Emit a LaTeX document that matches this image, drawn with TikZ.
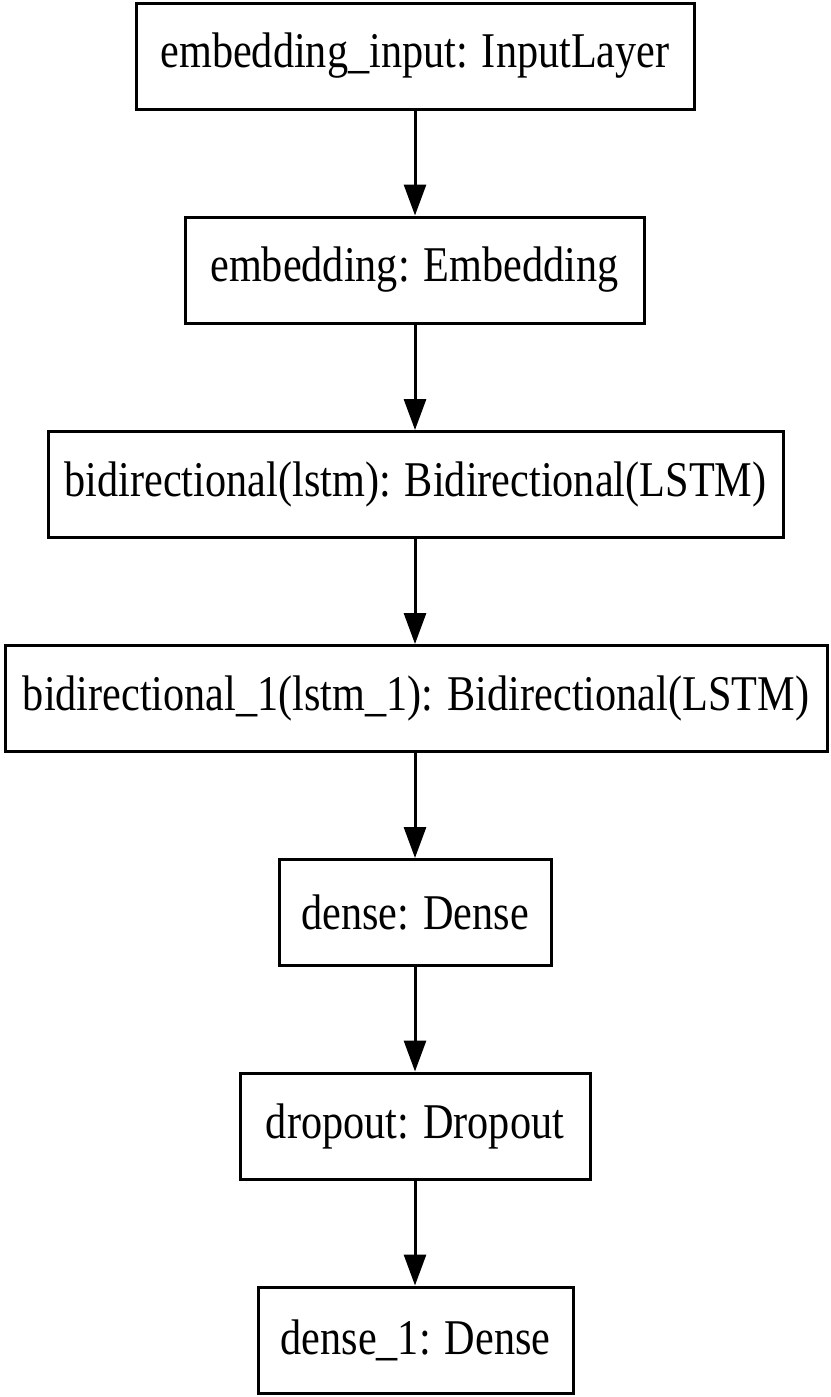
\documentclass[tikz,border=0pt]{standalone}
\usepackage{fontspec}
\setmainfont{Liberation Serif}[FakeStretch=0.845]
\usetikzlibrary{arrows.meta}
\begin{document}
\begin{tikzpicture}[x=0.5pt,y=-0.5pt,
  layer/.style={draw=black, line width=1.5pt, fill=white, inner sep=0pt,
    minimum height=53pt, font=\fontsize{25}{30}\selectfont},
  flow/.style={line width=1.5pt, -{Triangle[length=15.5pt,width=11pt]}}]
\useasboundingbox (0,0) rectangle (830,1397);
\node[layer, minimum width=279pt] (n1) at (415,56) {embedding\_input: InputLayer};
\node[layer, minimum width=229.5pt] (n2) at (414.5,270) {embedding: Embedding};
\node[layer, minimum width=367.5pt] (n3) at (415.5,484.5) {bidirectional(lstm): Bidirectional(LSTM)};
\node[layer, minimum width=411pt] (n4) at (416,698.5) {bidirectional\_1(lstm\_1): Bidirectional(LSTM)};
\node[layer, minimum width=136pt] (n5) at (415,912.5) {dense: Dense};
\node[layer, minimum width=175pt] (n6) at (415,1126) {dropout: Dropout};
\node[layer, minimum width=157.5pt] (n7) at (415.5,1340) {dense\_1: Dense};
\draw[flow] (n1.south -| 415,0) -- (n2.north -| 415,0);
\draw[flow] (n2.south -| 415,0) -- (n3.north -| 415,0);
\draw[flow] (n3.south -| 415,0) -- (n4.north -| 415,0);
\draw[flow] (n4.south -| 415,0) -- (n5.north -| 415,0);
\draw[flow] (n5.south -| 415,0) -- (n6.north -| 415,0);
\draw[flow] (n6.south -| 415,0) -- (n7.north -| 415,0);
\end{tikzpicture}
\end{document}
